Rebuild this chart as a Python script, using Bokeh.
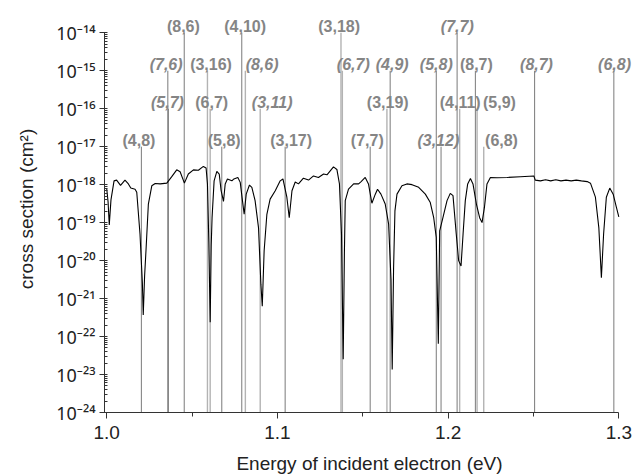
import numpy as np
from bokeh.plotting import figure
from bokeh.models import Range1d, FixedTicker, PrintfTickFormatter, ColumnDataSource
from bokeh.embed import file_html
from bokeh.resources import INLINE
from bokeh.core.properties import value

# ---- cross-section curve (energy in eV, log10 of cross section in cm^2) ----
energy = [1.0000, 1.0008, 1.0015, 1.0025, 1.0043, 1.0058, 1.0081, 1.0107, 1.0127, 1.0141,
          1.0166, 1.0176, 1.0195, 1.0209, 1.0214, 1.0222, 1.0230, 1.0244, 1.0264, 1.0284,
          1.0313, 1.0352, 1.0381, 1.0410, 1.0430, 1.0455, 1.0478, 1.0508, 1.0537, 1.0566,
          1.0582, 1.0590, 1.0598, 1.0606, 1.0612, 1.0617, 1.0629, 1.0645, 1.0659, 1.0670,
          1.0684, 1.0694, 1.0707, 1.0733, 1.0745, 1.0768, 1.0782, 1.0795, 1.0805, 1.0817,
          1.0836, 1.0850, 1.0869, 1.0889, 1.0903, 1.0911, 1.0922, 1.0938, 1.0957, 1.0987,
          1.1016, 1.1032, 1.1055, 1.1069, 1.1085, 1.1104, 1.1123, 1.1152, 1.1182, 1.1211,
          1.1240, 1.1270, 1.1290, 1.1328, 1.1348, 1.1363, 1.1375, 1.1385, 1.1392, 1.1397,
          1.1416, 1.1446, 1.1475, 1.1490, 1.1514, 1.1533, 1.1553, 1.1573, 1.1586, 1.1606,
          1.1631, 1.1651, 1.1665, 1.1672, 1.1680, 1.1688, 1.1700, 1.1729, 1.1758, 1.1788,
          1.1827, 1.1866, 1.1895, 1.1915, 1.1930, 1.1942, 1.1950, 1.1969, 1.1993, 1.2012,
          1.2028, 1.2047, 1.2061, 1.2075, 1.2087, 1.2100, 1.2114, 1.2130, 1.2145, 1.2165,
          1.2184, 1.2198, 1.2212, 1.2227, 1.2247, 1.2286, 1.2345, 1.2423, 1.2501, 1.2510,
          1.2540, 1.2570, 1.2600, 1.2630, 1.2660, 1.2690, 1.2720, 1.2750, 1.2780, 1.2814,
          1.2833, 1.2862, 1.2882, 1.2897, 1.2910, 1.2926, 1.2946, 1.2966, 1.2985, 1.2999]
log_sigma = [-18.10, -18.45, -19.06, -18.40, -17.90, -17.88, -18.02, -17.88, -17.98, -18.09,
             -18.12, -18.20, -19.30, -20.60, -21.43, -20.40, -19.74, -18.51, -18.03, -17.97,
             -17.98, -17.96, -17.79, -17.61, -17.66, -17.96, -17.72, -17.61, -17.62, -17.52,
             -17.56, -17.98, -19.50, -21.62, -19.60, -18.87, -17.90, -17.65, -17.72, -18.16,
             -18.44, -17.98, -17.85, -17.90, -17.85, -17.81, -17.94, -18.42, -18.78, -18.25,
             -18.01, -18.07, -18.42, -19.13, -20.62, -21.20, -19.74, -18.78, -18.38, -18.16,
             -17.90, -17.85, -18.33, -18.87, -18.16, -17.93, -17.98, -17.83, -17.88, -17.77,
             -17.81, -17.72, -17.74, -17.53, -17.60, -17.98, -19.30, -22.60, -19.80, -18.42,
             -18.12, -17.98, -17.98, -17.92, -17.81, -17.98, -18.49, -18.25, -18.12, -18.25,
             -18.51, -19.04, -20.50, -22.87, -20.20, -18.69, -18.25, -18.03, -17.98, -18.00,
             -18.07, -18.25, -18.47, -18.87, -19.39, -22.19, -19.22, -18.87, -18.42, -18.23,
             -18.29, -19.30, -20.00, -20.14, -19.30, -18.42, -17.98, -17.84, -17.98, -18.51,
             -18.87, -19.00, -18.60, -17.98, -17.81, -17.82, -17.81, -17.79, -17.77, -17.88,
             -17.90, -17.87, -17.90, -17.87, -17.90, -17.88, -17.90, -17.88, -17.90, -17.92,
             -17.96, -18.33, -19.13, -20.45, -19.30, -18.33, -18.09, -18.25, -18.60, -18.85]

# ---- resonance lines ----
line_labels = ["(4,8)", "(7,6)", "(5,7)", "(8,6)", "(3,16)", "(6,7)", "(5,8)", "(4,10)", "(8,6)",
               "(3,11)", "(3,17)", "(3,18)", "(6,7)", "(7,7)", "(3,19)", "(4,9)", "(5,8)", "(3,12)",
               "(7,7)", "(4,11)", "(8,7)", "(5,9)", "(6,8)", "(8,7)", "(6,8)"]
line_energy = [1.0203, 1.0358, 1.0361, 1.0454, 1.0590, 1.0606, 1.0674, 1.0791, 1.0812,
               1.0899, 1.1045, 1.1372, 1.1380, 1.1543, 1.1641, 1.1660, 1.1930, 1.1958,
               1.2052, 1.2067, 1.2159, 1.2169, 1.2208, 1.2506, 1.2970]
line_top_exp = [-17, -15, -16, -14, -15, -16, -17, -14, -15,
                -16, -17, -14, -15, -17, -16, -15, -15, -17,
                -14, -16, -15, -16, -17, -15, -15]
line_italic = [False, True, True, False, False, False, False, False, True,
               True, False, False, True, False, False, True, True, True,
               True, False, False, False, False, True, True]
line_light = [False, False, False, False, True, True, False, False, True,
              True, False, True, True, False, True, False, False, False,
              False, True, False, True, True, False, False]
label_energy = [1.0189, 1.0348, 1.0356, 1.0449, 1.0611, 1.0615, 1.0688, 1.0811, 1.0910,
                1.0969, 1.1080, 1.1361, 1.1444, 1.1526, 1.1646, 1.1672, 1.1930, 1.1942,
                1.2053, 1.2070, 1.2165, 1.2300, 1.2312, 1.2517, 1.2974]

x_ticks = [1.0, 1.1, 1.2, 1.3]
x_minor = [1.05, 1.15, 1.25]
y_exps = list(range(-24, -13))

sigma = 10.0 ** np.array(log_sigma)
tops = [float(f"1e{e}") for e in line_top_exp]

p = figure(width=634, height=476, output_backend="svg", toolbar_location=None,
           y_axis_type="log",
           x_range=Range1d(0.99871, 1.30909),
           y_range=Range1d(1e-24, 10 ** -13.282),
           min_border_left=104, min_border_right=0, min_border_top=5, min_border_bottom=63)
p.outline_line_color = None
p.grid.visible = False
p.background_fill_color = "white"

# vertical lines
seg = ColumnDataSource(dict(
    x=line_energy, y0=[1e-24] * len(line_energy), y1=tops,
    c=["#b3b3b3" if l else "#7a7a7a" for l in line_light],
    w=[1.4 if l else 1.0 for l in line_light]))
p.segment(x0="x", y0="y0", x1="x", y1="y1", source=seg, line_color="c", line_width="w")

# labels
for ital in (False, True):
    idx = [i for i in range(len(line_labels)) if line_italic[i] == ital]
    src = ColumnDataSource(dict(x=[label_energy[i] for i in idx],
                                y=[tops[i] for i in idx],
                                t=[line_labels[i] for i in idx]))
    p.text(x="x", y="y", text="t", source=src, text_font=value("Liberation Sans"),
           text_font_size=value("16px"), text_font_style="bold italic" if ital else "bold",
           text_color="#858585", text_align="center", text_baseline="alphabetic",
           y_offset=-6)

# curve
p.line(energy, sigma, line_color="black", line_width=1.1)

# axes
xa = p.xaxis[0]
xa.ticker = FixedTicker(ticks=x_ticks, minor_ticks=x_minor)
xa.formatter = PrintfTickFormatter(format="%.1f")
xa.bounds = (1.0, 1.3)
xa.axis_label = "Energy of incident electron (eV)"
xa.major_tick_out = 6
xa.major_tick_in = 0
xa.minor_tick_out = 4
xa.minor_tick_in = 0
xa.major_label_standoff = 7
xa.axis_label_standoff = 11

ya = p.yaxis[0]
minor_y = [k * float(f"1e{e}") for e in range(-24, -14) for k in range(2, 10)]
ya.ticker = FixedTicker(ticks=[float(f"1e{e}") for e in y_exps], minor_ticks=minor_y)
sup = str.maketrans("-0123456789", "⁻⁰¹²³⁴⁵⁶⁷⁸⁹")
ya.major_label_overrides = {float(f"1e{e}"): "10" + str(e).translate(sup) for e in y_exps}
ya.bounds = (1e-24, 1e-14)
ya.axis_label = "cross section (cm²)"
ya.major_tick_out = 5
ya.major_tick_in = 3
ya.minor_tick_out = 0
ya.minor_tick_in = 3
ya.major_label_standoff = 4
ya.axis_label_standoff = 16

for ax in (xa, ya):
    ax.axis_line_color = "#333333"
    ax.major_tick_line_color = "#333333"
    ax.minor_tick_line_color = "#333333"
    ax.major_label_text_font = "Liberation Sans"
    ax.major_label_text_font_size = "19px"
    ax.major_label_text_color = "#222222"
    ax.axis_label_text_font = "Liberation Sans"
    ax.axis_label_text_font_size = "19px"
    ax.axis_label_text_font_style = "normal"
    ax.axis_label_text_color = "#222222"

ya.major_label_text_font = "Noto Sans"
ya.major_label_text_font_size = "18px"

open("out.html", "w").write(file_html(p, INLINE))
